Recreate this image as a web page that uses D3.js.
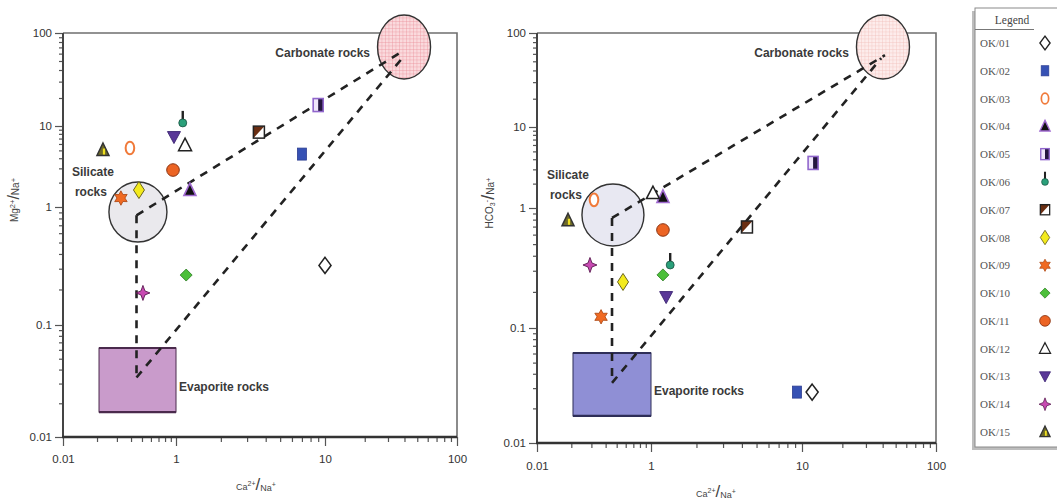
<!DOCTYPE html>
<html>
<head>
<meta charset="utf-8">
<script src="https://cdn.jsdelivr.net/npm/d3@7"></script>
<style>
  body { margin: 0; background: #fff; }
  svg { display: block; }
</style>
</head>
<body>
<svg id="fig" width="1057" height="504"></svg>
<script>
// Sample identifiers
const samples = ["OK/01","OK/02","OK/03","OK/04","OK/05","OK/06","OK/07","OK/08",
                 "OK/09","OK/10","OK/11","OK/12","OK/13","OK/14","OK/15"];

// Ca2+/Na+ vs Mg2+/Na+ (left panel)
const caNaLeft = [10.0, 7.0, 0.153, 1.24, 9.0, 1.11, 3.6, 0.221, 0.106, 1.17, 0.885, 1.15, 0.92, 0.26, 0.051];
const mgNa     = [0.32, 4.5, 5.35, 1.62, 16.8, 10.8, 8.4, 1.62, 1.29, 0.265, 2.86, 5.8, 7.3, 0.187, 5.05];

// Ca2+/Na+ vs HCO3-/Na+ (right panel)
const caNaRight = [11.9, 9.26, 0.10, 1.2, 12.1, 1.34, 4.32, 0.323, 0.133, 1.2, 1.2, 1.03, 1.26, 0.085, 0.035];
const hco3Na    = [0.0277, 0.0277, 1.26, 1.37, 3.6, 0.335, 0.695, 0.242, 0.124, 0.277, 0.656, 1.53, 0.181, 0.335, 0.79];

// Axis ticks
const xTickValues = [0.01, 1, 10, 100];
const xTickLabels = ["0.01", "1", "10", "100"];
const yTickValues = [0.01, 0.1, 1, 10, 100];
const yTickLabels = ["0.01", "0.1", "1", "10", "100"];

// End-member domains: silicate centre [x,y], carbonate centre [x,y], evaporite box [x0,x1,y0,y1]
const silicateLeft  = [0.212, 0.908];
const carbonateLeft = [39.7, 70.7];
const evaporiteLeft = [0.0434, 1.0, 0.0167, 0.0623];
const silicateRight  = [0.215, 0.875];
const carbonateRight = [40.2, 71.0];
const evaporiteRight = [0.0428, 1.0, 0.0172, 0.0606];

// Mixing lines between end-members
const mixLinesLeft  = [[[0.20, 0.85], [39.0, 64.0]], [[0.20, 0.034], [40.3, 58.0]], [[0.20, 0.85], [0.20, 0.034]]];
const mixLinesRight = [[[0.207, 0.826], [41.6, 58.0]], [[0.207, 0.0333], [39.0, 54.0]], [[0.207, 0.826], [0.207, 0.0333]]];

const svg = d3.select("#fig");
const defs = svg.append("defs");

function gridPattern(id, bg, line, step) {
  const p = defs.append("pattern").attr("id", id).attr("patternUnits", "userSpaceOnUse")
    .attr("width", step).attr("height", step);
  p.append("rect").attr("width", step).attr("height", step).attr("fill", bg);
  p.append("path").attr("d", `M0,0H${step}M0,0V${step}`).attr("stroke", line).attr("stroke-width", 0.7);
}
gridPattern("carbL", "#fadadd", "#e98c95", 3.5);
gridPattern("carbR", "#fdeceb", "#f1bdb8", 3.5);

// Marker shapes for every sample
function marker(g, id, s) {
  const m = g.append("g").attr("transform", `scale(${s})`);
  switch (id) {
    case "OK/01":
      m.append("path").attr("d", "M0,-8L6,0L0,8L-6,0Z").attr("fill", "#fff").attr("stroke", "#222").attr("stroke-width", 1.6); break;
    case "OK/02":
      m.append("rect").attr("x", -4.5).attr("y", -6).attr("width", 9).attr("height", 12)
        .attr("fill", "#3651b4").attr("stroke", "#2c3d92").attr("stroke-width", 0.8); break;
    case "OK/03":
      m.append("ellipse").attr("rx", 4.3).attr("ry", 6.3).attr("fill", "#fff").attr("stroke", "#f07a3a").attr("stroke-width", 2); break;
    case "OK/04":
      m.append("path").attr("d", "M0,-7L6,5.5L-6,5.5Z").attr("fill", "#111").attr("stroke", "#a06ad0").attr("stroke-width", 1.6); break;
    case "OK/05":
      m.append("rect").attr("x", -5).attr("y", -6.5).attr("width", 10).attr("height", 13).attr("fill", "#efe6fa");
      m.append("rect").attr("x", 0).attr("y", -6.5).attr("width", 5).attr("height", 13).attr("fill", "#24163e");
      m.append("rect").attr("x", -5).attr("y", -6.5).attr("width", 10).attr("height", 13)
        .attr("fill", "none").attr("stroke", "#9066cc").attr("stroke-width", 1.6); break;
    case "OK/06":
      m.append("rect").attr("x", -1.2).attr("y", -12).attr("width", 2.4).attr("height", 10).attr("fill", "#222");
      m.append("circle").attr("r", 4).attr("fill", "#2aa07a").attr("stroke", "#1a5040").attr("stroke-width", 0.8); break;
    case "OK/07":
      m.append("rect").attr("x", -5.5).attr("y", -6).attr("width", 11).attr("height", 12).attr("fill", "#fff");
      m.append("path").attr("d", "M-5.5,-6L5.5,-6L-5.5,6Z").attr("fill", "#6a2e12");
      m.append("rect").attr("x", -5.5).attr("y", -6).attr("width", 11).attr("height", 12)
        .attr("fill", "none").attr("stroke", "#222").attr("stroke-width", 1.5); break;
    case "OK/08":
      m.append("path").attr("d", "M0,-8.5L5.5,0L0,8.5L-5.5,0Z").attr("fill", "#f3ea1c").attr("stroke", "#6a6420").attr("stroke-width", 1); break;
    case "OK/09": {
      const pts = d3.range(12).map(i => {
        const a = -Math.PI / 2 + i * Math.PI / 6, r = i % 2 ? 4 : 7.2;
        return [r * Math.cos(a), r * Math.sin(a)];
      });
      m.append("path").attr("d", "M" + pts.join("L") + "Z").attr("fill", "#f06a22").attr("stroke", "#a84410").attr("stroke-width", 0.8); break;
    }
    case "OK/10":
      m.append("path").attr("d", "M0,-6L6,0L0,6L-6,0Z").attr("fill", "#4cbf3a").attr("stroke", "#2c7a22").attr("stroke-width", 0.8); break;
    case "OK/11":
      m.append("circle").attr("r", 6.3).attr("fill", "#ec6424").attr("stroke", "#8a3412").attr("stroke-width", 1); break;
    case "OK/12":
      m.append("path").attr("d", "M0,-7L6.5,5.5L-6.5,5.5Z").attr("fill", "#fff").attr("stroke", "#222").attr("stroke-width", 1.5); break;
    case "OK/13":
      m.append("path").attr("d", "M-6.5,-5.5L6.5,-5.5L0,6.5Z").attr("fill", "#5a3898").attr("stroke", "#3a2272").attr("stroke-width", 0.9); break;
    case "OK/14":
      m.append("path").attr("d", "M0,-7.5L2,-2L7,0L2,2L0,7.5L-2,2L-7,0L-2,-2Z").attr("fill", "#c84ab2").attr("stroke", "#5a1a50").attr("stroke-width", 0.9); break;
    case "OK/15":
      m.append("path").attr("d", "M0,-7L6,5.5L-6,5.5Z").attr("fill", "#6e6a2a").attr("stroke", "#333").attr("stroke-width", 1.5);
      m.append("path").attr("d", "M1,-1.5L1,4.5").attr("stroke", "#f0e020").attr("stroke-width", 2.2); break;
  }
}

function minorTicks(vals) {
  const out = [];
  for (let i = 0; i < vals.length - 1; i++) {
    const a = vals[i], b = vals[i + 1];
    for (let k = 2; k <= 9; k++) out.push(a * Math.pow(b / a, Math.log10(k)));
  }
  return out;
}

function titleText(g, parts) {
  parts.forEach(p => {
    g.append("tspan").text(p[0]).attr("font-size", p[1]).attr("dy", p[2]);
  });
}

function panel(cfg) {
  const x = d3.scaleLog().domain(xTickValues).range(cfg.xr);
  const y = d3.scaleLog().domain(yTickValues).range(cfg.yr);
  const x0 = cfg.xr[0], x1 = cfg.xr[cfg.xr.length - 1];
  const y0 = cfg.yr[0], y1 = cfg.yr[cfg.yr.length - 1];
  const g = svg.append("g");

  // frame (top and right)
  g.append("path").attr("d", `M${x0},${y1}H${x1}V${y0}`).attr("fill", "none")
    .attr("stroke", "#6f6f6f").attr("stroke-width", 1.6);

  // minor and major ticks
  const styleAxis = sel => {
    sel.select(".domain").remove();
    sel.selectAll(".tick line").attr("stroke", "#555").attr("stroke-width", 1.2);
    sel.selectAll(".tick text").attr("fill", "#333").attr("font-family", "Liberation Sans, Arial, sans-serif").attr("font-size", 11.5);
  };
  g.append("g").attr("transform", `translate(0,${y0})`)
    .call(d3.axisBottom(x).tickValues(minorTicks(xTickValues)).tickSize(5).tickFormat("")).call(styleAxis);
  g.append("g").attr("transform", `translate(0,${y0})`)
    .call(d3.axisBottom(x).tickValues(xTickValues).tickSize(9).tickPadding(cfg.xPad)
      .tickFormat((d, i) => xTickLabels[i])).call(styleAxis);
  g.append("g").attr("transform", `translate(${x0},0)`)
    .call(d3.axisLeft(y).tickValues(minorTicks(yTickValues)).tickSize(4).tickFormat("")).call(styleAxis);
  g.append("g").attr("transform", `translate(${x0},0)`)
    .call(d3.axisLeft(y).tickValues(yTickValues).tickSize(8).tickPadding(3)
      .tickFormat((d, i) => yTickLabels[i])).call(styleAxis);

  // axis lines
  g.append("line").attr("x1", x0).attr("x2", x0).attr("y1", y1).attr("y2", y0)
    .attr("stroke", "#444").attr("stroke-width", 2);
  g.append("line").attr("x1", x0 - 1).attr("x2", x1).attr("y1", y0).attr("y2", y0)
    .attr("stroke", "#333").attr("stroke-width", 2.5);

  // evaporite box
  const ev = cfg.evaporite;
  const ex0 = x(ev[0]), ex1 = x(ev[1]), eyTop = y(ev[3]), eyBot = y(ev[2]);
  g.append("rect").attr("x", ex0).attr("y", eyTop).attr("width", ex1 - ex0).attr("height", eyBot - eyTop)
    .attr("fill", cfg.evapFill).attr("stroke", cfg.evapStroke).attr("stroke-width", 1);
  g.append("path").attr("d", `M${ex0},${eyTop}H${ex1}M${ex0},${eyBot}H${ex1}`)
    .attr("stroke", cfg.evapStroke).attr("stroke-width", 2.2);
  g.append("text").text("Evaporite rocks").attr("x", ex1 + 3).attr("y", (eyTop + eyBot) / 2 + 11)
    .attr("font-family", "Liberation Sans, Arial, sans-serif").attr("font-weight", "bold")
    .attr("font-size", 12).attr("fill", "#3a3a3a");

  // silicate circle
  const sx = x(cfg.silicate[0]), sy = y(cfg.silicate[1]);
  g.append("ellipse").attr("cx", sx).attr("cy", sy).attr("rx", cfg.silR[0]).attr("ry", cfg.silR[1])
    .attr("fill", cfg.silFill).attr("stroke", "#333").attr("stroke-width", 1.4);
  const st = g.append("g").attr("font-family", "Liberation Sans, Arial, sans-serif").attr("font-weight", "bold")
    .attr("font-size", 12).attr("fill", "#3a3a3a").attr("text-anchor", "middle");
  st.append("text").text("Silicate").attr("x", sx - 45).attr("y", sy - 36);
  st.append("text").text("rocks").attr("x", sx - 47).attr("y", sy - 16);

  // carbonate ellipse
  const cx = x(cfg.carbonate[0]), cy = y(cfg.carbonate[1]);
  g.append("ellipse").attr("cx", cx).attr("cy", cy).attr("rx", 26.5).attr("ry", 32)
    .attr("fill", `url(#${cfg.carbPattern})`).attr("stroke", "#333").attr("stroke-width", 1.4);
  g.append("text").text("Carbonate rocks").attr("x", cx - 34).attr("y", cy + 10).attr("text-anchor", "end")
    .attr("font-family", "Liberation Sans, Arial, sans-serif").attr("font-weight", "bold")
    .attr("font-size", 12).attr("fill", "#3a3a3a");

  // mixing lines
  cfg.lines.forEach(l => {
    g.append("line").attr("x1", x(l[0][0])).attr("y1", y(l[0][1])).attr("x2", x(l[1][0])).attr("y2", y(l[1][1]))
      .attr("stroke", "#222").attr("stroke-width", 2.6).attr("stroke-dasharray", "8,7");
  });

  // samples
  samples.forEach((id, i) => {
    const mg = g.append("g").attr("transform", `translate(${x(cfg.xs[i])},${y(cfg.ys[i])})`);
    marker(mg, id, 1);
  });

  // axis titles
  const xt = g.append("text").attr("x", cfg.xTitle[0]).attr("y", cfg.xTitle[1]).attr("text-anchor", "middle")
    .attr("font-family", "Liberation Sans, Arial, sans-serif").attr("fill", "#444");
  titleText(xt, [["Ca", 9, 0], ["2+", 7, -4], ["/", 17, 4], ["Na", 9, 1], ["+", 7, -4]]);
  const yt = g.append("text").attr("transform", `translate(${cfg.yTitle[0]},${cfg.yTitle[1]}) rotate(-90)`)
    .attr("text-anchor", "middle").attr("font-family", "Liberation Sans, Arial, sans-serif").attr("fill", "#444");
  titleText(yt, cfg.yTitleParts);
}

panel({
  xr: [63, 176, 325, 457], yr: [437, 325, 207, 126, 33], xPad: 9,
  xs: caNaLeft, ys: mgNa,
  silicate: silicateLeft, carbonate: carbonateLeft, evaporite: evaporiteLeft, lines: mixLinesLeft,
  silR: [29, 30], silFill: "#eae9ed", evapFill: "#c99bcb", evapStroke: "#4a2a4c", carbPattern: "carbL",
  xTitle: [256, 490], yTitle: [18, 200],
  yTitleParts: [["Mg", 10, 0], ["2+", 7.5, -3], ["/", 16, 4], ["Na", 10, 0], ["+", 7.5, -3]]
});

panel({
  xr: [537, 651, 802, 936], yr: [443, 328, 208, 127, 33], xPad: 10,
  xs: caNaRight, ys: hco3Na,
  silicate: silicateRight, carbonate: carbonateRight, evaporite: evaporiteRight, lines: mixLinesRight,
  silR: [31, 31], silFill: "#e8e8f2", evapFill: "#8f8fd5", evapStroke: "#2e2e58", carbPattern: "carbR",
  xTitle: [716, 497], yTitle: [493, 203],
  yTitleParts: [["HCO", 10, 0], ["3", 7, 2], ["-", 8, -6], ["/", 18, 5], ["Na", 10, 0], ["+", 7.5, -3]]
});

// Legend
const lg = svg.append("g");
lg.append("rect").attr("x", 972).attr("y", 11).attr("width", 90).attr("height", 439).attr("fill", "#bdbdbd");
lg.append("rect").attr("x", 975).attr("y", 8).attr("width", 90).attr("height", 439)
  .attr("fill", "#fff").attr("stroke", "#8a8a8a").attr("stroke-width", 1);
lg.append("text").text("Legend").attr("x", 1012).attr("y", 24).attr("text-anchor", "middle")
  .attr("font-family", "Liberation Serif, Times New Roman, serif").attr("font-size", 11.5).attr("fill", "#444");
lg.append("line").attr("x1", 975).attr("x2", 1034).attr("y1", 29.5).attr("y2", 29.5).attr("stroke", "#777");
const ly = d3.scalePoint().domain(samples).range([43, 432]);
samples.forEach(id => {
  lg.append("text").text(id).attr("x", 980).attr("y", ly(id) + 4)
    .attr("font-family", "Liberation Serif, Times New Roman, serif").attr("font-size", 11).attr("fill", "#555");
  const mg = lg.append("g").attr("transform", `translate(1045,${ly(id)})`);
  marker(mg, id, 0.85);
});
</script>
</body>
</html>
